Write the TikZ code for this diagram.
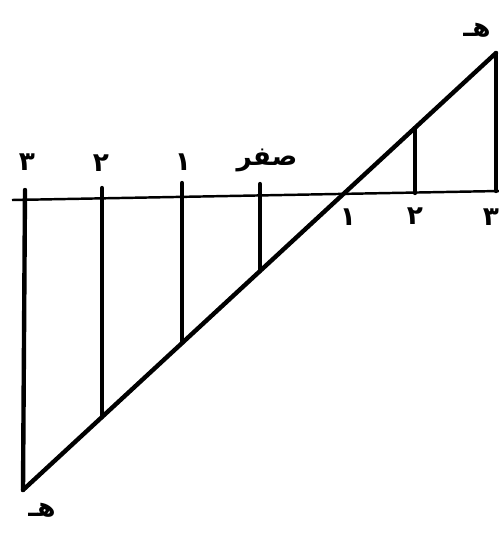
\documentclass[tikz,border=0pt]{standalone}
\usepackage{fontspec}
\newfontfamily\arabicfont[Script=Arabic]{DejaVu Sans}
\TeXXeTstate=1
\usetikzlibrary{calc}

\begin{document}
\begin{tikzpicture}[
    x=0.02cm, y=-0.02cm,
    beam/.style={
        line width=2.5pt,
        line cap=round,
        draw=black
    },
    baseline/.style={
        line width=1.4pt,
        draw=black
    },
    lbl/.style={
        font=\arabicfont\bfseries\fontsize{15}{17}\selectfont,
        inner sep=1pt
    }
]
\useasboundingbox (0,0) rectangle (499,549);

% Base line and slanted line
\coordinate (left) at (12,200);
\coordinate (right) at (499,191);
\coordinate (bot) at (23,490);
\coordinate (top) at (496,53);

% Ordinates below the base line
\coordinate (up3) at (25,190);
\coordinate (up2) at (102,188);
\coordinate (up1) at (182,183);
\coordinate (up0) at (260,184);
\coordinate (on2) at (102,417);
\coordinate (on1) at (182,343);
\coordinate (on0) at (260,271);

% Ordinates above the base line
\coordinate (foot2) at (415,193);
\coordinate (head2) at (415,128);
\coordinate (foot3) at (496,191);

\draw[baseline] (left) -- (right);
\draw[beam] (bot) -- (top);
\draw[beam] (up3) -- (bot);
\draw[beam] (up2) -- (on2);
\draw[beam] (up1) -- (on1);
\draw[beam] (up0) -- (on0);
\draw[beam] (head2) -- (foot2);
\draw[beam] (top) -- (foot3);

% Labels
\node[lbl] (n3) at (27,162) {\beginR ٣\endR};
\node[lbl] (n2) at (101,163) {\beginR ٢\endR};
\node[lbl] (n1) at (183,162) {\beginR ١\endR};
\node[lbl] (n0) at (267,160) {\beginR صفر\endR};
\node[lbl] (m1) at (348,217) {\beginR ١\endR};
\node[lbl] (m2) at (415,216) {\beginR ٢\endR};
\node[lbl] (m3) at (491,217) {\beginR ٣\endR};
\node[lbl] (ha) at (477,30) {\beginR هـ\endR};
\node[lbl] (hb) at (42,510) {\beginR هـ\endR};

\end{tikzpicture}
\end{document}
